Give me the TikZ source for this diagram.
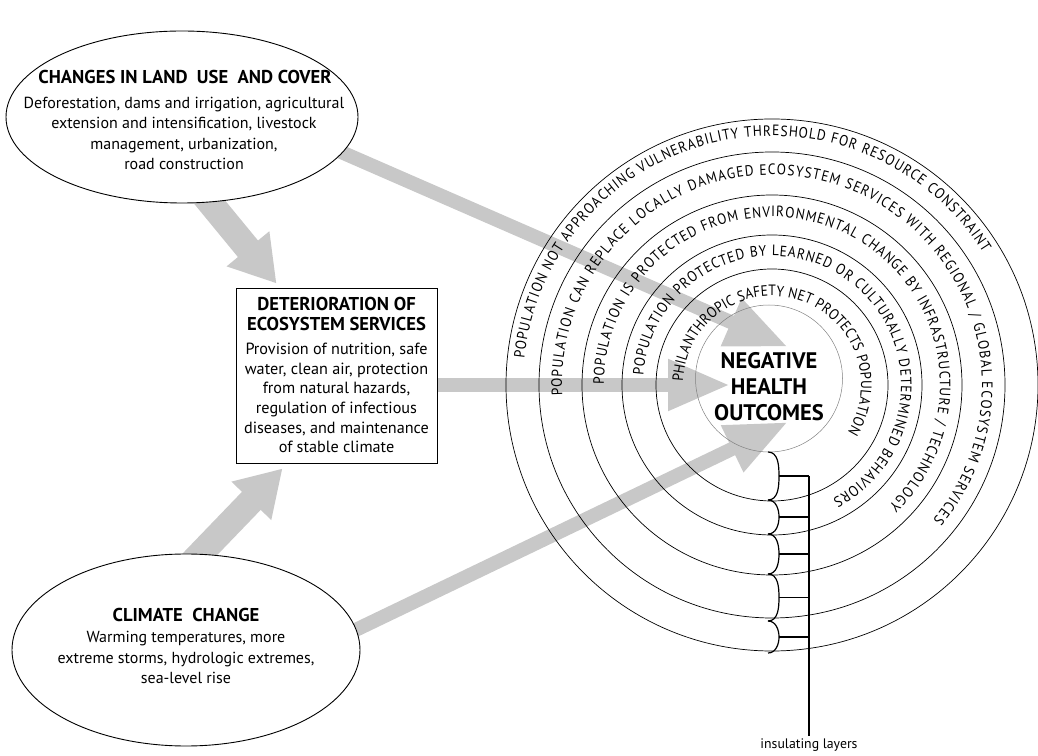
\documentclass[tikz,border=0pt]{standalone}
\usepackage{fontspec}
\setmainfont{PT Sans}
\newfontfamily\ringface[FakeStretch=0.9]{PT Sans}
\usetikzlibrary{shapes.geometric,arrows.meta,decorations.text,calc}
\definecolor{flowgray}{RGB}{200,200,200}
\newcommand\ringfont{\ringface\fontsize{15}{15}\selectfont}
\pgfdeclarelayer{bg}
\pgfsetlayers{bg,main}

\begin{document}
\begin{tikzpicture}[
  x=1pt, y=1pt,
  oval/.style={ellipse, draw, line width=0.9pt, fill=white},
  block/.style={rectangle, draw, line width=0.9pt, fill=white, minimum width=201pt, minimum height=175pt},
  head/.style={font=\fontsize{18.6}{20.5}\selectfont\bfseries, align=center},
  body/.style={font=\fontsize{16}{20.2}\selectfont, align=center},
  fat/.style={flowgray, line width=26pt, -{Triangle[width=52pt,length=45pt]}},
  slim/.style={flowgray, line width=14pt, -{Triangle[width=48pt,length=62pt]}},
  ring/.style={line width=0.7pt},
  ringtext/.style={decorate, decoration={text along path, text align=fit to path, text={|\ringfont|#1}}},
  brace/.style={line width=1.2pt}
]
\useasboundingbox (0,0) rectangle (1038,755);
\coordinate (hub) at (772,370);

\node[oval, minimum width=352pt, minimum height=172pt] (land) at (182,638) {};
\node[block] (det) at (336.5,379.5) {};
\node[oval, minimum width=348pt, minimum height=192pt] (clim) at (186,105) {};
\node[circle, draw=gray, line width=0.5pt, minimum size=147pt] (neg) at (769,376.5) {};

% Texts
\node[head] (landhead) at (185,678) {CHANGES IN LAND\ \ USE\ \ AND COVER};
\node[body] (landbody) at (184,621.5) {Deforestation, dams and irrigation, agricultural\\extension and intensification, livestock\\management, urbanization,\\road construction};
\node[head] (dethead) at (336.5,441) {DETERIORATION OF\\ECOSYSTEM SERVICES};
\node[body, font=\fontsize{16.2}{19.6}\selectfont] (detbody) at (336.5,357) {Provision of nutrition, safe\\water, clean air, protection\\from natural hazards,\\regulation of infectious\\diseases, and maintenance\\of stable climate};
\node[head] (climhead) at (186,140) {CLIMATE\ \ CHANGE};
\node[body] (climbody) at (186,97.5) {Warming temperatures, more\\extreme storms, hydrologic extremes,\\sea-level rise};
\node[font=\fontsize{22.5}{26}\selectfont\bfseries, align=center] (negtxt) at (769,368) {NEGATIVE\\HEALTH\\OUTCOMES};

% Arrows
\begin{pgfonlayer}{bg}
\draw[fat] ($(land.south)+(18,13)$) -- ($(det.north west)+(41,4)$);
\draw[fat] ($(clim.north)+(4,-11)$) -- ($(det.south west)+(47,-5)$);
\draw[slim] ($(land.east)+(-38,-26)$) -- ($(neg)+(19,31.5)$);
\draw[slim] (det.east |- hub) -- ($(hub)+(-42,0)$);
\draw[slim] ($(clim.east)+(-32,7)$) -- ($(neg)+(19,-43.5)$);
\end{pgfonlayer}

% Rings
\foreach \r in {266,233,190,150,116}
  \draw[ring] (hub) circle[radius=\r];

\path[ringtext={POPULATION NOT APPROACHING VULNERABILITY THRESHOLD FOR RESOURCE CONSTRAINT}]
  ($(hub)+(174:249)$) arc[start angle=174, end angle=32, radius=249];
\path[ringtext={POPULATION CAN REPLACE LOCALLY DAMAGED ECOSYSTEM SERVICES WITH REGIONAL / GLOBAL ECOSYSTEM SERVICES}]
  ($(hub)+(183:210)$) arc[start angle=183, end angle=-40, radius=210];
\path[ringtext={POPULATION IS PROTECTED FROM ENVIRONMENTAL CHANGE BY INFRASTRUCTURE / TECHNOLOGY}]
  ($(hub)+(180:168)$) arc[start angle=180, end angle=-46, radius=168];
\path[ringtext={POPULATION PROTECTED BY LEARNED OR CULTURALLY DETERMINED BEHAVIORS}]
  ($(hub)+(176:129)$) arc[start angle=176, end angle=-62, radius=129];
\path[ringtext={PHILANTHROPIC SAFETY NET PROTECTS POPULATION}]
  ($(hub)+(178:89)$) arc[start angle=178, end angle=-32, radius=89];

% insulating layers
\foreach \ya/\yb in {303/255,255/221,221/181,181/134,134/102} {
  \pgfmathsetmacro\ym{(\ya+\yb)/2}
  \draw[brace] (768,\ya) to[out=0,in=90] (779,\ym) to[out=-90,in=0] (768,\yb);
  \draw[brace] (779,\ym) -- (809,\ym);
}
\node[font=\fontsize{13.8}{15}\selectfont, inner sep=2pt] (insul) at (809,10) {insulating layers};
\draw[brace] (809,279) -- (insul.north);
\end{tikzpicture}
\end{document}
